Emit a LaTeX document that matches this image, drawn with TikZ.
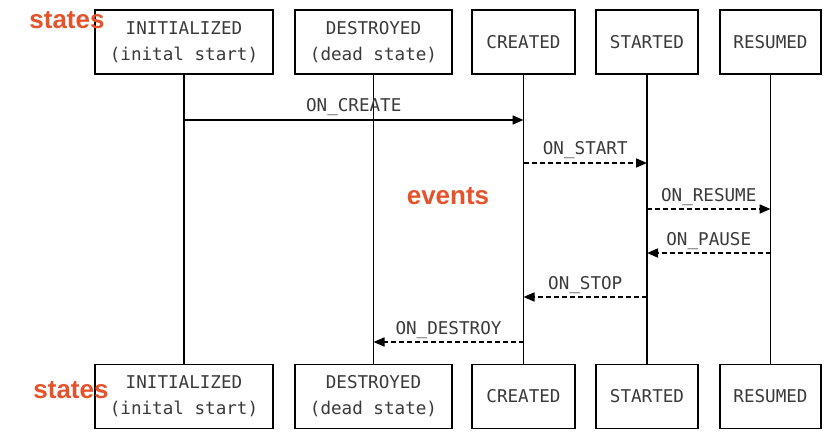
\documentclass[tikz,border=0pt]{standalone}
\usepackage{fontspec}
\setmainfont{Liberation Sans}
\newfontfamily\monofont{DejaVu Sans Mono}
\usetikzlibrary{arrows.meta}
\definecolor{ink}{HTML}{3A3A3A}
\definecolor{tagred}{HTML}{E4532B}
\tikzset{
  statebox/.style={draw=black, line width=1.7pt, fill=white, text=ink,
    font=\monofont\fontsize{17.6}{26}\selectfont, align=center,
    minimum height=64pt, inner sep=0pt},
  lifeline/.style={draw=black, line width=1.7pt},
  msg/.style={line width=1.7pt, -{Triangle[length=11pt,width=9pt]}},
  async/.style={msg, dash pattern=on 5pt off 3pt},
  evlabel/.style={anchor=base, yshift=8pt, text=ink, inner sep=0pt,
    font=\monofont\fontsize{17.6}{22}\selectfont},
  tag/.style={text=tagred, font=\bfseries\fontsize{26}{28}\selectfont, inner sep=0pt}
}
\begin{document}
\begin{tikzpicture}[x=1pt, y=-1pt]
  \useasboundingbox (0,0) rectangle (825,433);
  \fill[white] (0,0) rectangle (825,433);

  % lifeline heads
  \node[statebox, minimum width=178pt] (tI) at (184,42) {INITIALIZED\\(inital start)};
  \node[statebox, minimum width=157pt] (tD) at (373.5,42) {DESTROYED\\(dead state)};
  \node[statebox, minimum width=103pt] (tC) at (523.5,42) {CREATED};
  \node[statebox, minimum width=102pt] (tS) at (647,42) {STARTED};
  \node[statebox, minimum width=101pt] (tR) at (770.5,42) {RESUMED};

  % lifeline feet
  \node[statebox, minimum width=178pt] (bI) at (184,396.5) {INITIALIZED\\(inital start)};
  \node[statebox, minimum width=157pt] (bD) at (373.5,396.5) {DESTROYED\\(dead state)};
  \node[statebox, minimum width=103pt] (bC) at (523.5,396.5) {CREATED};
  \node[statebox, minimum width=102pt] (bS) at (647,396.5) {STARTED};
  \node[statebox, minimum width=101pt] (bR) at (770.5,396.5) {RESUMED};

  % lifelines
  \foreach \s in {I,D,C,S,R}
    \draw[lifeline] (t\s.south) -- (b\s.north);

  % events
  \draw[msg]   (tI.south |- 0,120) -- node[evlabel] {ON\_CREATE}  (tC.south |- 0,120);
  \draw[async] (tC.south |- 0,163) -- node[evlabel] {ON\_START}   (tS.south |- 0,163);
  \draw[async] (tS.south |- 0,209) -- node[evlabel] {ON\_RESUME}  (tR.south |- 0,209);
  \draw[async] (tR.south |- 0,253) -- node[evlabel] {ON\_PAUSE}   (tS.south |- 0,253);
  \draw[async] (tS.south |- 0,297) -- node[evlabel] {ON\_STOP}    (tC.south |- 0,297);
  \draw[async] (tC.south |- 0,342) -- node[evlabel] {ON\_DESTROY} (tD.south |- 0,342);

  % annotations
  \node[tag] (states1) at (67,20) {states};
  \node[tag] (events)  at (448,196) {events};
  \node[tag] (states2) at (71,390) {states};
\end{tikzpicture}
\end{document}
